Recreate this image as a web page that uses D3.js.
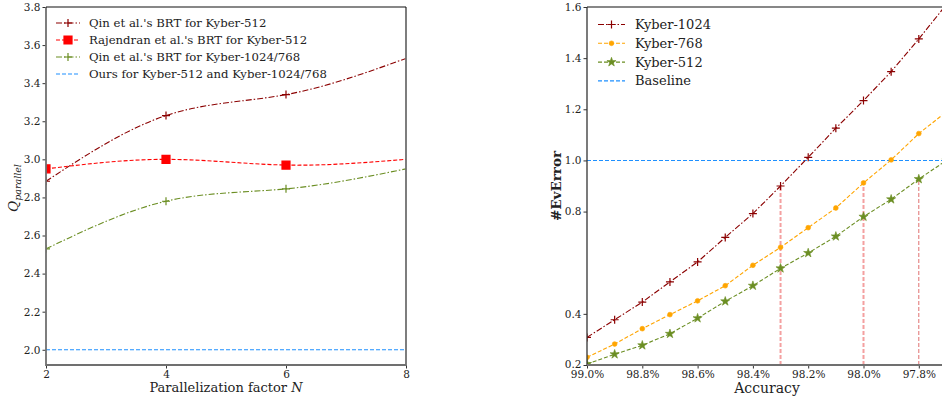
<!DOCTYPE html>
<meta charset="utf-8" />
<style>
  body { margin: 0; background: #fff; }
  svg text { font-family: "DejaVu Serif", "Liberation Serif", serif !important; fill: #222; }
</style>
<svg width="942" height="398"></svg>
<script src="https://cdn.jsdelivr.net/npm/d3@7"></script>
<script>
    // left panel data
    var nFactors = [2, 4, 6, 8];
    var qin512 = [2.885, 3.23, 3.34, 3.53];
    var rajendran512 = [2.95, 3.0, 2.97, 3.0];
    var qin1024 = [2.53, 2.78, 2.845, 2.95];
    var ours = [2.0, 2.0, 2.0, 2.0];
    var leftYTicks = [2.0, 2.2, 2.4, 2.6, 2.8, 3.0, 3.2, 3.4, 3.6, 3.8];

    // right panel data
    var accuracy = [99.0, 98.9, 98.8, 98.7, 98.6, 98.5, 98.4, 98.3, 98.2, 98.1, 98.0, 97.9, 97.8, 97.7];
    var kyber1024 = [0.308, 0.377, 0.446, 0.525, 0.603, 0.699, 0.792, 0.900, 1.012, 1.126, 1.234, 1.347, 1.475, 1.61];
    var kyber768 = [0.230, 0.282, 0.342, 0.397, 0.451, 0.510, 0.590, 0.660, 0.737, 0.814, 0.912, 1.002, 1.105, 1.19];
    var kyber512 = [0.204, 0.242, 0.277, 0.322, 0.383, 0.449, 0.510, 0.578, 0.638, 0.703, 0.780, 0.848, 0.927, 1.0];
    var baseline = 1.0;
    var rightYTicks = [0.2, 0.4, 0.8, 1.0, 1.2, 1.4, 1.6];
    var rightXTicks = [99.0, 98.8, 98.6, 98.4, 98.2, 98.0, 97.8];
    // drop lines from the x axis up to the marked points
    var dropLines = [
        { acc: 98.3, top: 0.900, color: "#f4a0a0", width: 2 },
        { acc: 98.0, top: 0.912, color: "#f4a0a0", width: 2 },
        { acc: 97.8, top: 0.927, color: "#e07070", width: 1 }
    ];

    var svg = d3.select("svg");

    function plus(r) {
        return "M" + (-r) + ",0H" + r + "M0," + (-r) + "V" + r;
    }

    // ---------- left panel ----------
    var L = { x0: 46, x1: 406, y0: 7, y1: 365 };
    var xL = d3.scaleLinear().domain([2, 8]).range([L.x0, L.x1]);
    var yL = d3.scaleLinear().domain([1.92, 3.8]).range([L.y1, L.y0]);

    svg.append("clipPath").attr("id", "clipL").append("rect")
        .attr("x", L.x0).attr("y", L.y0).attr("width", L.x1 - L.x0).attr("height", L.y1 - L.y0);

    var gL = svg.append("g");
    gL.append("g").attr("transform", "translate(0," + L.y1 + ")")
        .call(d3.axisBottom(xL).tickValues(nFactors).tickSize(3.5).tickPadding(2).tickFormat(d3.format("d")))
        .call(g => g.select(".domain").remove());
    gL.append("g").attr("transform", "translate(" + L.x0 + ",0)")
        .call(d3.axisLeft(yL).tickValues(leftYTicks).tickSize(3.5).tickPadding(2).tickFormat(d3.format(".1f")))
        .call(g => g.select(".domain").remove());

    var leftSeries = [
        { name: "Qin et al.'s BRT for Kyber-512", vals: qin512, color: "#8b0000", dash: "6,2,1.5,2", marker: "plus" },
        { name: "Rajendran et al.'s BRT for Kyber-512", vals: rajendran512, color: "#ff0000", dash: "4,2", marker: "square" },
        { name: "Qin et al.'s BRT for Kyber-1024/768", vals: qin1024, color: "#6b8e23", dash: "6,2,1.5,2", marker: "plus" },
        { name: "Ours for Kyber-512 and Kyber-1024/768", vals: ours, color: "#1e90ff", dash: "4,2", marker: null }
    ];

    var plotL = gL.append("g").attr("clip-path", "url(#clipL)");
    var lineL = d3.line().x((d, i) => xL(nFactors[i])).y(d => yL(d)).curve(d3.curveNatural);

    leftSeries.forEach(function (s) {
        plotL.append("path").attr("d", lineL(s.vals))
            .attr("fill", "none").attr("stroke", s.color).attr("stroke-width", 1.1)
            .attr("stroke-dasharray", s.dash);
        if (!s.marker) return;
        var pts = s.vals.slice(0, 3);
        plotL.selectAll(null).data(pts).enter().append("path")
            .attr("transform", (d, i) => "translate(" + xL(nFactors[i]) + "," + yL(d) + ")")
            .attr("d", s.marker === "plus" ? plus(4) : "M-4,-4H4V4H-4Z")
            .attr("fill", s.color).attr("stroke", s.color).attr("stroke-width", 1.2);
    });

    // frame
    gL.append("path").attr("d", "M" + L.x0 + "," + L.y0 + "V" + L.y1 + "H" + L.x1 + "V" + L.y0)
        .attr("fill", "none").attr("stroke", "#707070").attr("stroke-width", 1.8);
    gL.append("line").attr("x1", L.x0).attr("x2", L.x1).attr("y1", L.y0).attr("y2", L.y0).attr("stroke", "#111").attr("stroke-width", 1.2);

    // legend
    var legL = gL.append("g");
    leftSeries.forEach(function (s, i) {
        var y = 23 + i * 17;
        legL.append("line").attr("x1", 56).attr("x2", 80).attr("y1", y).attr("y2", y)
            .attr("stroke", s.color).attr("stroke-width", 1.1).attr("stroke-dasharray", s.dash);
        if (s.marker) legL.append("path").attr("transform", "translate(68," + y + ")")
            .attr("d", s.marker === "plus" ? plus(4) : "M-4,-4H4V4H-4Z")
            .attr("fill", s.color).attr("stroke", s.color).attr("stroke-width", 1.2);
        legL.append("text").attr("x", 89).attr("y", y + 4.3).attr("font-size", 11.7).text(s.name);
    });

    gL.append("text").attr("x", 226).attr("y", 392).attr("text-anchor", "middle").attr("font-size", 13)
        .text("Parallelization factor ").append("tspan").attr("font-style", "italic").text("N");
    var qLab = gL.append("text").attr("transform", "translate(18,188) rotate(-90)").attr("text-anchor", "middle")
        .attr("font-size", 13.5).attr("font-style", "italic");
    qLab.append("tspan").text("Q");
    qLab.append("tspan").attr("font-size", 9.5).attr("dy", 3).text("parallel");

    // ---------- right panel ----------
    var R = { x0: 587, x1: 947, y0: 7, y1: 365 };
    var xR = d3.scaleLinear().domain([99.0, 97.7]).range([R.x0, R.x0 + 1.3 / 0.2 * 55.3]);
    var yR = d3.scaleLinear().domain([0.2, 1.6]).range([R.y1, R.y0]);

    svg.append("clipPath").attr("id", "clipR").append("rect")
        .attr("x", R.x0).attr("y", R.y0 - 5).attr("width", R.x1 - R.x0).attr("height", R.y1 - R.y0 + 5);

    var gR = svg.append("g");
    gR.append("g").attr("transform", "translate(0," + R.y1 + ")")
        .call(d3.axisBottom(xR).tickValues(rightXTicks).tickSize(3.5).tickPadding(2).tickFormat(d => d.toFixed(1) + "%"))
        .call(g => g.select(".domain").remove());
    gR.append("g").attr("class", "yR").attr("transform", "translate(" + R.x0 + ",0)")
        .call(d3.axisLeft(yR).tickValues(rightYTicks).tickSize(3.5).tickPadding(2).tickFormat(d3.format(".1f")))
        .call(g => g.select(".domain").remove());

    var plotR = gR.append("g").attr("clip-path", "url(#clipR)");

    dropLines.forEach(function (d) {
        plotR.append("line").attr("x1", xR(d.acc)).attr("x2", xR(d.acc))
            .attr("y1", yR(0.2)).attr("y2", yR(d.top))
            .attr("stroke", d.color).attr("stroke-width", d.width).attr("stroke-dasharray", "4,2");
    });

    plotR.append("line").attr("x1", R.x0).attr("x2", R.x1).attr("y1", yR(baseline)).attr("y2", yR(baseline))
        .attr("stroke", "#1e90ff").attr("stroke-width", 1.1).attr("stroke-dasharray", "4,2");

    var rightSeries = [
        { name: "Kyber-1024", vals: kyber1024, color: "#8b0000", dash: "6,2,1.5,2", marker: "plus" },
        { name: "Kyber-768", vals: kyber768, color: "#ffa500", dash: "4,2", marker: "circle" },
        { name: "Kyber-512", vals: kyber512, color: "#6b8e23", dash: "4,2", marker: "star" }
    ];
    var lineR = d3.line().x((d, i) => xR(accuracy[i])).y(d => yR(d));

    function markerPath(m) {
        if (m === "plus") return plus(4);
        if (m === "circle") return d3.symbol().type(d3.symbolCircle).size(18)();
        return d3.symbol().type(d3.symbolStar).size(26)();
    }

    rightSeries.forEach(function (s) {
        plotR.append("path").attr("d", lineR(s.vals)).attr("fill", "none")
            .attr("stroke", s.color).attr("stroke-width", 1.1).attr("stroke-dasharray", s.dash);
        plotR.selectAll(null).data(s.vals).enter().append("path")
            .attr("transform", (d, i) => "translate(" + xR(accuracy[i]) + "," + yR(d) + ")")
            .attr("d", markerPath(s.marker))
            .attr("fill", s.color).attr("stroke", s.color).attr("stroke-width", s.marker === "plus" ? 1.2 : 0.6);
    });

    gR.append("line").attr("x1", R.x0).attr("x2", R.x1).attr("y1", R.y0).attr("y2", R.y0).attr("stroke", "#111").attr("stroke-width", 1.2);
    gR.append("line").attr("x1", R.x0).attr("x2", R.x0).attr("y1", R.y0).attr("y2", R.y1).attr("stroke", "#333").attr("stroke-width", 1.3);
    gR.append("line").attr("x1", R.x0).attr("x2", R.x1).attr("y1", R.y1).attr("y2", R.y1).attr("stroke", "#707070").attr("stroke-width", 1.8);

    var legItems = rightSeries.concat([{ name: "Baseline", color: "#1e90ff", dash: "4,2", marker: null }]);
    var legR = gR.append("g");
    legItems.forEach(function (s, i) {
        var y = 24.5 + i * 18.8;
        legR.append("line").attr("x1", 598).attr("x2", 625).attr("y1", y).attr("y2", y)
            .attr("stroke", s.color).attr("stroke-width", 1.1).attr("stroke-dasharray", s.dash);
        if (s.marker) legR.append("path").attr("transform", "translate(611.5," + y + ")")
            .attr("d", markerPath(s.marker))
            .attr("fill", s.color).attr("stroke", s.color).attr("stroke-width", s.marker === "plus" ? 1.2 : 0.6);
        legR.append("text").attr("x", 635).attr("y", y + 4.5).attr("font-size", 13).text(s.name);
    });

    gR.append("text").attr("x", 767).attr("y", 393).attr("text-anchor", "middle").attr("font-size", 14).text("Accuracy");
    gR.append("text").attr("transform", "translate(561,186) rotate(-90)").attr("text-anchor", "middle")
        .attr("font-size", 13.5).attr("font-weight", "bold").text("#EvError");

    svg.selectAll(".tick text").attr("font-size", 10.5).attr("fill", "#222");
    svg.selectAll(".tick line").attr("stroke", "#333");
    // lift the lowest right-axis label a little so it clears the x labels
    gR.select(".yR").selectAll(".tick text").filter(d => d === 0.2).attr("dy", "0.2em");
</script>
